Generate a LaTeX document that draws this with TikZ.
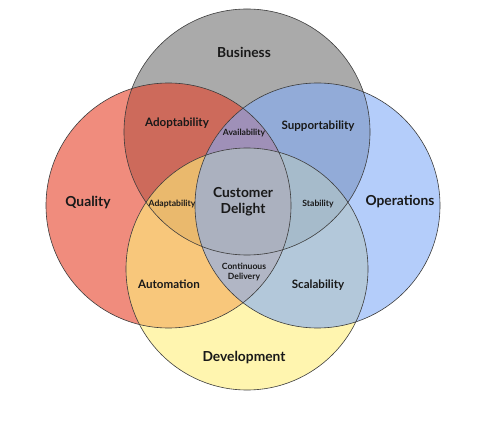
\documentclass[tikz,border=0pt]{standalone}
\usepackage{fontspec}
\setmainfont{Lato}
\usepackage{tikz}
\usepackage{xcolor}
\usetikzlibrary{positioning, backgrounds}
\definecolor{busgray}{RGB}{113,113,113}
\definecolor{qualred}{RGB}{230,63,38}
\definecolor{opsblue}{RGB}{130,172,247}
\definecolor{devyellow}{RGB}{255,238,122}
\definecolor{rimgray}{RGB}{60,60,60}

\begin{document}
\begin{tikzpicture}[x=1pt, y=-1pt,
    area/.style={circle, inner sep=0pt, minimum size=245pt, fill opacity=0.6},
    areaB/.style={area, fill=busgray, minimum size=246pt},
    areaQ/.style={area, fill=qualred},
    areaO/.style={area, fill=opsblue},
    areaD/.style={area, fill=devyellow, minimum size=242pt},
    rim/.style={draw=rimgray, line width=0.6pt},
    big/.style={font=\fontsize{13.8}{16}\selectfont\bfseries, text=black!90, align=center},
    mid/.style={font=\fontsize{11.6}{13}\selectfont\bfseries, text=black!90},
    small/.style={font=\fontsize{8.6}{10.5}\selectfont\bfseries, text=black!90, align=center}
]
\useasboundingbox (0,0) rectangle (489,430);

% The four sets
\node[areaB] (bus) at (247,132) {};
\node[areaQ] (qual) at (168.5,205.5) {};
\node[areaD] (dev) at (247,269) {};
\node[areaO] (ops) at (317.5,205.5) {};

% Outlines on top
\draw[rim] (bus.center) circle (123);
\draw[rim] (qual.center) circle (122.5);
\draw[rim] (dev.center) circle (121);
\draw[rim] (ops.center) circle (122.5);

% Set names
\node[big] (busname) at (244,52) {Business};
\node[big] (qualname) at (88,203) {Quality};
\node[big] (opsname) at (400,202) {Operations};
\node[big] (devname) at (244,358) {Development};

% Pairwise overlaps
\node[mid] (adopt) at (177,123) {Adoptability};
\node[mid] (support) at (318,126) {Supportability};
\node[mid] (autom) at (169,284) {Automation};
\node[mid] (scale) at (318,285) {Scalability};

% Triple overlaps
\node[small] (avail) at (244,133) {Availability};
\node[small] (adapt) at (172,204) {Adaptability};
\node[small] (stab) at (318,204) {Stability};
\node[small] (contdel) at (244,272) {Continuous\\Delivery};

% Centre
\node[big] (delight) at (243,202) {Customer\\Delight};

\end{tikzpicture}
\end{document}
